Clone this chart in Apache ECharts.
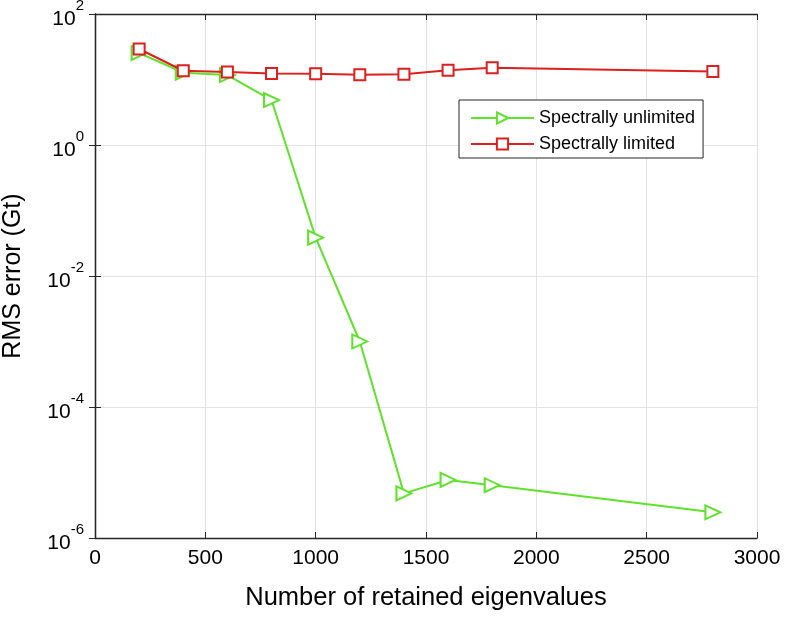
<!DOCTYPE html>
<html>
<head>
<meta charset="utf-8">
<script src="https://cdn.jsdelivr.net/npm/echarts@6/dist/echarts.min.js"></script>
<style>
html,body{margin:0;padding:0;background:#fff;}
#chart{width:786px;height:617px;}
</style>
</head>
<body>
<div id="chart"></div>
<script>
var eigenCounts = [200, 400, 600, 800, 1000, 1200, 1400, 1600, 1800, 2800];
var unlimitedErr = [25.4, 12.7, 11.7, 4.86, 0.0385, 0.001, 4.8e-6, 7.7e-6, 6.4e-6, 2.47e-6];
var limitedErr = [29.2, 13.6, 13.0, 12.4, 12.2, 11.8, 12.0, 13.8, 15.1, 13.2];
var seriesNames = ['Spectrally unlimited', 'Spectrally limited'];
var xTitle = 'Number of retained eigenvalues';
var yTitle = 'RMS error (Gt)';

var FONT = 'Liberation Sans, Arial, sans-serif';
var AX = '#262626';
var green = '#5FE22B';
var red = '#DC1F1F';

function pairs(xs, ys){ return xs.map(function(x,i){ return [x, ys[i]]; }); }

var chart = echarts.init(document.getElementById('chart'), null, {renderer:'canvas'});
chart.setOption({
  animation:false,
  backgroundColor:'#fff',
  grid:{left:95, right:29, top:14, bottom:79, containLabel:false, outerBoundsMode:'none'},
  legend:{
    data:seriesNames,
    orient:'vertical',
    left:459, top:100,
    itemWidth:63, itemHeight:14,
    itemGap:8,
    padding:[9,8,5,11],
    borderColor:AX, borderWidth:1,
    backgroundColor:'#fff',
    textStyle:{fontFamily:FONT, fontSize:18, color:'#000'}
  },
  xAxis:[{
    type:'value', min:0, max:3000, interval:500,
    name:xTitle, nameLocation:'middle', nameGap:47,
    nameTextStyle:{fontFamily:FONT, fontSize:25.5, color:'#000'},
    axisLine:{lineStyle:{color:AX, width:1.3}},
    axisTick:{inside:true, length:6, lineStyle:{color:AX}},
    axisLabel:{fontFamily:FONT, fontSize:21, color:'#000', margin:10,
      formatter:function(v){ return String(v); }},
    splitLine:{show:true, lineStyle:{color:'#e3e3e3', width:1}}
  },{
    type:'value', min:0, max:3000, interval:500, position:'top',
    axisLine:{show:true, lineStyle:{color:AX, width:1.3}},
    axisTick:{inside:true, length:6, lineStyle:{color:AX}},
    axisLabel:{show:false}, splitLine:{show:false}
  }],
  yAxis:[{
    type:'log', logBase:100, min:1e-6, max:1e2,
    name:yTitle, nameLocation:'middle', nameGap:69,
    nameTextStyle:{fontFamily:FONT, fontSize:25, color:'#000'},
    axisLine:{show:true, lineStyle:{color:AX, width:1.3}},
    axisTick:{show:true, inside:true, length:6, lineStyle:{color:AX}},
    axisLabel:{
      margin:11,
      formatter:function(v){
        var e = Math.round(Math.log10(v));
        return '{b|10}{s|' + e + '}';
      },
      rich:{
        b:{fontFamily:FONT, fontSize:21, color:'#000', padding:[11,0,0,0]},
        s:{fontFamily:FONT, fontSize:15, color:'#000', padding:[0,0,16,0]}
      }
    },
    splitLine:{show:true, lineStyle:{color:'#e3e3e3', width:1}}
  },{
    type:'log', logBase:100, min:1e-6, max:1e2, position:'right',
    axisLine:{show:true, lineStyle:{color:AX, width:1.3}},
    axisTick:{show:true, inside:true, length:6, lineStyle:{color:AX}},
    axisLabel:{show:false}, splitLine:{show:false}
  }],
  series:[{
    name:seriesNames[0], type:'line',
    data:pairs(eigenCounts, unlimitedErr),
    lineStyle:{color:green, width:2},
    itemStyle:{color:'#fff', borderColor:green, borderWidth:2},
    color:green,
    symbol:'triangle', symbolRotate:-90, symbolSize:[14,15],
    showAllSymbol:true, z:2
  },{
    name:seriesNames[1], type:'line',
    data:pairs(eigenCounts, limitedErr),
    lineStyle:{color:red, width:2},
    itemStyle:{color:'#fff', borderColor:red, borderWidth:2},
    color:red,
    symbol:'rect', symbolSize:11,
    showAllSymbol:true, z:3
  }]
});
</script>
</body>
</html>
